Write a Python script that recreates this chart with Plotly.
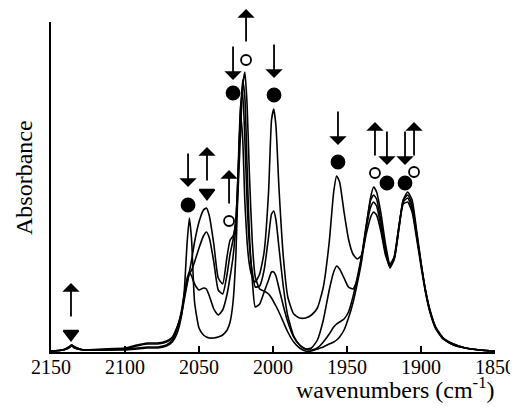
import plotly.graph_objects as go

# ---- data (absorbance in arbitrary units) ----
wavenumbers = [2150, 2142, 2138, 2136, 2134, 2128, 2115, 2100, 2092, 2085,
               2078, 2072, 2068, 2065, 2062, 2060, 2058, 2056.5, 2055, 2053,
               2050, 2047, 2045, 2043, 2040, 2037, 2034, 2031, 2029, 2027,
               2025, 2023.5, 2022, 2020.5, 2019, 2017.5, 2016, 2014, 2012, 2009,
               2006, 2003, 2001, 1999.5, 1998, 1996, 1993, 1990, 1986, 1982,
               1978, 1974, 1970, 1966, 1962, 1959, 1957, 1955, 1952, 1949,
               1946, 1943, 1940, 1937, 1934, 1932, 1930, 1927, 1924, 1921,
               1918, 1915, 1912, 1909, 1906, 1903, 1900, 1897, 1894, 1890,
               1885, 1878, 1870, 1860, 1850]

spectrum_1 = [1, 2, 4, 6, 4, 2, 2, 2, 3, 4,
              4, 6, 10, 18, 35, 60, 110, 134, 112, 50,
              24, 17, 15, 14, 14, 15, 17, 22, 30, 50,
              100, 175, 238, 214, 150, 110, 88, 75, 70, 78,
              100, 160, 232, 243, 226, 165, 95, 55, 38, 34,
              34, 37, 44, 65, 110, 160, 176, 170, 140, 113,
              98, 93, 97, 118, 135, 140, 137, 120, 97, 86,
              96, 125, 148, 150, 140, 114, 86, 60, 40, 23,
              13, 7, 4, 2, 1]

spectrum_2 = [1, 2, 4, 6, 4, 2, 2, 3, 4, 5,
              5, 7, 12, 22, 40, 58, 74, 80, 76, 68,
              62, 64, 63, 56, 43, 37, 42, 58, 75, 95,
              130, 185, 244, 260, 212, 150, 108, 80, 65, 66,
              82, 115, 138, 141, 132, 105, 65, 36, 16, 7,
              3, 4, 12, 32, 62, 80, 86, 83, 74, 65,
              63, 72, 96, 124, 145, 150, 146, 125, 100, 84,
              93, 122, 150, 154, 144, 117, 88, 61, 41, 24,
              13, 7, 4, 2, 1]

spectrum_3 = [1, 2, 5, 7, 5, 2, 2, 3, 6, 8,
              8, 10, 14, 24, 38, 54, 70, 78, 82, 90,
              104, 116, 120, 114, 90, 62, 58, 78, 98, 112,
              135, 180, 238, 272, 254, 185, 120, 72, 45, 48,
              60, 72, 80, 80, 76, 64, 46, 30, 15, 7,
              3, 2, 4, 10, 18, 25, 28, 30, 33, 40,
              55, 75, 97, 127, 152, 157, 153, 130, 104, 86,
              94, 123, 152, 157, 148, 119, 89, 62, 42, 24,
              14, 8, 4, 2, 1]

spectrum_4 = [1, 2, 5, 7, 5, 2, 3, 4, 7, 9,
              9, 11, 15, 24, 36, 52, 68, 80, 92, 110,
              130, 142, 144, 136, 108, 74, 68, 96, 112, 116,
              130, 165, 218, 266, 280, 247, 180, 110, 75, 63,
              61, 58, 54, 50, 46, 40, 30, 20, 10, 4,
              1, 1, 3, 5, 8, 10, 12, 15, 22, 34,
              49, 69, 92, 125, 155, 165, 160, 138, 108, 88,
              95, 125, 152, 160, 152, 122, 90, 62, 42, 25,
              14, 8, 4, 2, 1]

spectra = [spectrum_1, spectrum_2, spectrum_3, spectrum_4]

# band markers: position, height, species symbol
band_wn = [2136.5, 2057.4, 2044.6, 2029.7, 2027.0, 2018.2, 1999.3, 1956.1,
           1931.1, 1923.0, 1910.8, 1904.7]
band_abs = [18, 147, 159, 131, 259, 292, 257, 190, 179, 169, 169, 180]
band_species = ["tri", "fill", "tri", "open", "fill", "open", "fill", "fill",
                "open", "fill", "fill", "open"]
# intensity change arrows (tip height, direction)
arrow_tip = [69, 165, 205, 182, 272, 344, 274, 207, 230, 187, 187, 230]
arrow_dir = ["up", "down", "up", "up", "down", "up", "down", "down",
             "up", "down", "down", "up"]

xtick_vals = [2150, 2100, 2050, 2000, 1950, 1900, 1850]
xtick_text = ["2150", "2100", "2050", "2000", "1950", "1900", "1850"]
Y_MAX = 330

# ---- figure ----
# (the page body has an 8px default margin, so the figure is 8px smaller
#  than the 518x413 window and margins are reduced accordingly)
SERIF = "Liberation Serif, Times New Roman, serif"
fig = go.Figure()

for s in spectra:
    fig.add_trace(go.Scatter(x=wavenumbers, y=s, mode="lines",
                             line=dict(color="black", width=1.6,
                                       shape="spline", smoothing=0.5),
                             showlegend=False, hoverinfo="skip"))

sym_map = {"fill": ("circle", 13, "black"),
           "open": ("circle-open", 10, "black"),
           "tri": ("triangle-down", 13, "black")}
for kind in ["fill", "open", "tri"]:
    xs = [w for w, k in zip(band_wn, band_species) if k == kind]
    ys = [a for a, k in zip(band_abs, band_species) if k == kind]
    sym, size, col = sym_map[kind]
    fig.add_trace(go.Scatter(x=xs, y=ys, mode="markers", cliponaxis=False,
                             marker=dict(symbol=sym, size=size, color=col,
                                         line=dict(color="black", width=1.8)),
                             showlegend=False, hoverinfo="skip"))

for w, tip, d in zip(band_wn, arrow_tip, arrow_dir):
    fig.add_annotation(x=w, y=tip / Y_MAX, xref="x", yref="paper", text="",
                       showarrow=True, ax=0, ay=(35 if d == "up" else -35),
                       arrowhead=1, arrowsize=1.6, arrowwidth=1.8,
                       arrowcolor="black", standoff=0, startstandoff=0)

# tick labels placed close under the axis line, as in the original
for v, t in zip(xtick_vals, xtick_text):
    fig.add_annotation(x=v, y=0, xref="x", yref="paper", text=t,
                       showarrow=False, xanchor="center", yanchor="top",
                       yshift=-2,
                       font=dict(family=SERIF, size=20, color="black"))

fig.add_annotation(text="wavenumbers (cm<sup>-1</sup>)", xref="paper",
                   yref="paper", x=0.775, y=-0.108, showarrow=False,
                   xanchor="center", yanchor="middle",
                   font=dict(family=SERIF, size=24, color="black"))
fig.add_annotation(text="Absorbance", xref="paper", yref="paper",
                   x=-0.061, y=0.53, showarrow=False, textangle=-90,
                   xanchor="center", yanchor="middle",
                   font=dict(family=SERIF, size=24, color="black"))

fig.update_layout(
    width=510, height=405,
    margin=dict(l=43, r=23, t=14, b=61, autoexpand=False),
    paper_bgcolor="white", plot_bgcolor="white",
    font=dict(family=SERIF, size=20, color="black"),
    showlegend=False,
    xaxis=dict(range=[2150, 1850], tickvals=xtick_vals, showticklabels=False,
               ticks="inside", ticklen=6, tickwidth=1.5, tickcolor="black",
               showline=True, linecolor="black", linewidth=2,
               showgrid=False, zeroline=False),
    yaxis=dict(range=[0, Y_MAX], showticklabels=False, ticks="",
               showline=True, linecolor="black", linewidth=2,
               showgrid=False, zeroline=False),
)

fig.write_html("out.html")
